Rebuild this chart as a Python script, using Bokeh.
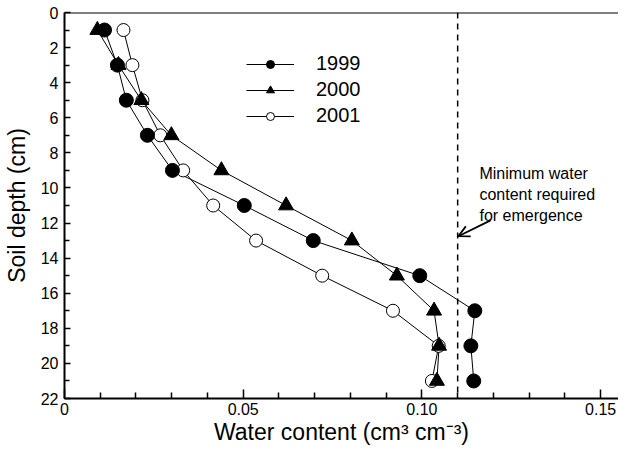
from bokeh.plotting import figure
from bokeh.models import (Range1d, FixedTicker, Span, Label, Arrow, OpenHead,
                          Legend, LegendItem)
from bokeh.embed import file_html
from bokeh.resources import INLINE

# ---- data ----
depth = [1, 3, 5, 7, 9, 11, 13, 15, 17, 19, 21]
wc_1999 = [0.0112, 0.0148, 0.0173, 0.0232, 0.0302, 0.0503, 0.0696, 0.0994, 0.1148, 0.1137, 0.1145]
wc_2000 = [0.0092, 0.0151, 0.0215, 0.0299, 0.0439, 0.0620, 0.0804, 0.0930, 0.1034, 0.1048, 0.1042]
wc_2001 = [0.0165, 0.0190, 0.0218, 0.0268, 0.0332, 0.0416, 0.0536, 0.0721, 0.0919, 0.1047, 0.1028]
threshold = 0.11

x_ticks = [0, 0.05, 0.1, 0.15]
x_tick_labels = ["0", "0.05", "0.10", "0.15"]
x_minor = [0.01, 0.02, 0.03, 0.04, 0.06, 0.07, 0.08, 0.09, 0.11, 0.12, 0.13, 0.14]
y_ticks = [0, 2, 4, 6, 8, 10, 12, 14, 16, 18, 20, 22]
y_minor = [1, 3, 5, 7, 9, 11, 13, 15, 17, 19, 21]

FONT = "Liberation Sans"

p = figure(width=618, height=447, output_backend="svg", toolbar_location=None,
           x_range=Range1d(0, 0.155), y_range=Range1d(22, 0),
           min_border_left=64, min_border_right=0, min_border_top=12, min_border_bottom=40)
p.outline_line_color = None
p.grid.visible = False
p.background_fill_color = "white"
p.border_fill_color = "white"

# axes
p.xaxis.ticker = FixedTicker(ticks=x_ticks, minor_ticks=x_minor)
p.xaxis.major_label_overrides = dict(zip(x_ticks, x_tick_labels))
p.yaxis.ticker = FixedTicker(ticks=y_ticks, minor_ticks=y_minor)
for ax in (p.xaxis, p.yaxis):
    ax.axis_line_width = 2
    ax.axis_line_color = "black"
    ax.major_tick_out = 0
    ax.minor_tick_out = 0
    ax.major_tick_line_color = "black"
    ax.minor_tick_line_color = "black"
    ax.major_tick_line_width = 1.5
    ax.minor_tick_line_width = 1.5
    ax.major_label_text_font = FONT
    ax.major_label_text_font_size = "16px"
    ax.major_label_text_color = "black"
    ax.axis_label_text_font = FONT
    ax.axis_label_text_font_size = "23px"
    ax.axis_label_text_font_style = "normal"
    ax.axis_label_text_color = "black"
p.xaxis.major_tick_in = 9
p.xaxis.minor_tick_in = 6
p.yaxis.major_tick_in = 6
p.yaxis.minor_tick_in = 5
p.xaxis.major_label_standoff = 4
p.yaxis.major_label_standoff = 6
p.xaxis.axis_label_standoff = 1
p.yaxis.axis_label_standoff = 8
p.xaxis.axis_label = "Water content (cm³ cm⁻³)"
p.yaxis.axis_label = "Soil depth (cm)"

# top border line
p.add_layout(Span(location=0, dimension="width", line_color="black", line_width=2))

# threshold dashed line
p.add_layout(Span(location=threshold, dimension="height", line_color="black",
                  line_width=1.5, line_dash="6 5"))

# series
l01 = p.line(wc_2001, depth, line_color="black", line_width=1)
l99 = p.line(wc_1999, depth, line_color="black", line_width=1)
l00 = p.line(wc_2000, depth, line_color="black", line_width=1)
s01 = p.scatter(wc_2001, depth, marker="circle", size=13, fill_color="white",
                line_color="black", line_width=1)
s99 = p.scatter(wc_1999, depth, marker="circle", size=14, fill_color="black",
                line_color="black")
s00 = p.scatter(wc_2000, depth, marker="triangle", size=15, fill_color="black",
                line_color="black")

legend = Legend(items=[
    LegendItem(label="1999", renderers=[l99, s99]),
    LegendItem(label="2000", renderers=[l00, s00]),
    LegendItem(label="2001", renderers=[l01, s01]),
], location=(182, 271))
legend.glyph_width = 48
legend.glyph_height = 20
legend.spacing = 3
legend.label_standoff = 22
legend.label_text_font = FONT
legend.label_text_font_size = "20px"
legend.label_text_color = "black"
legend.border_line_color = None
legend.background_fill_alpha = 0
legend.padding = 0
legend.margin = 0
p.add_layout(legend)

# annotation
p.add_layout(Label(x=0.1161, y=8.7, text="Minimum water\ncontent required\nfor emergence",
                   text_font=FONT, text_font_size="16px", text_color="black",
                   text_baseline="top", text_align="left", text_line_height=1.22))
p.add_layout(Arrow(x_start=0.1192, y_start=11.85, x_end=0.1102, y_end=12.75,
                   line_color="black", line_width=1.8,
                   end=OpenHead(size=11, line_color="black", line_width=1.8)))

open("out.html", "w").write(file_html(p, INLINE))
